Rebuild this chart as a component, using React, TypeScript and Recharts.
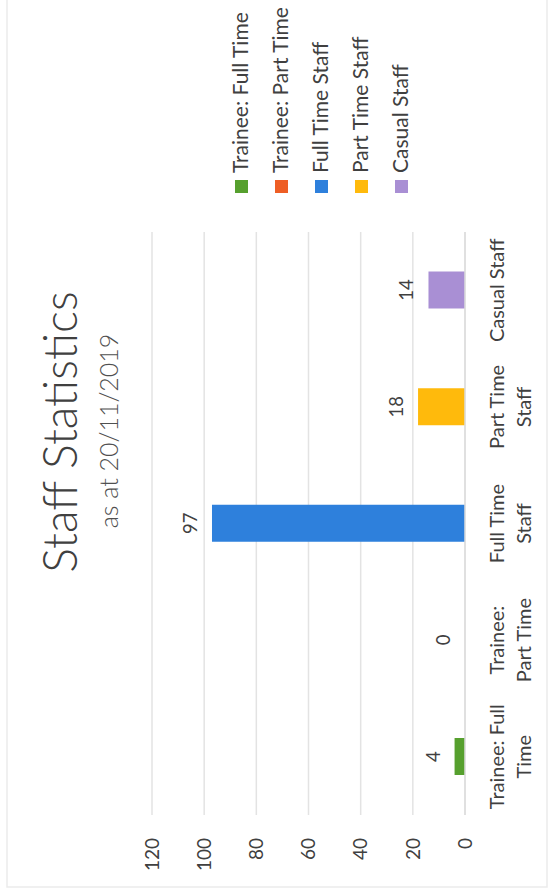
import React from 'react';
import { BarChart, Bar, XAxis, YAxis, CartesianGrid, Cell } from 'recharts';

const categories = ['Trainee: Full Time', 'Trainee: Part Time', 'Full Time Staff', 'Part Time Staff', 'Casual Staff'];
const categoryLines = [['Trainee: Full', 'Time'], ['Trainee:', 'Part Time'], ['Full Time', 'Staff'], ['Part Time', 'Staff'], ['Casual Staff']];
const staffCounts = [4, 0, 97, 18, 14];
const barColors = ['#56A02E', '#EE5E25', '#2E80DC', '#FFBA0C', '#A98FD4'];
const yTicks = [0, 20, 40, 60, 80, 100, 120];
const titleText = 'Staff Statistics';
const subtitleText = 'as at 20/11/2019';

const data = categories.map((c, i) => ({ name: c, value: staffCounts[i] }));

const FONT = 'Lato, "Liberation Sans", sans-serif';
const TEXT = '#404040';

const CategoryTick = (props: any) => {
  const { x, y, payload } = props;
  const idx = categories.indexOf(payload.value);
  const lines = categoryLines[idx] || [payload.value];
  return (
    <text x={x} y={y} textAnchor="middle" fill={TEXT} fontSize={20} fontFamily={FONT}>
      {lines.map((l, i) => (
        <tspan key={i} x={x} y={y + 39 + i * 27}>{l}</tspan>
      ))}
    </text>
  );
};

const ValueLabel = (props: any) => {
  const { x, y, width, value } = props;
  return (
    <text x={Number(x) + Number(width) / 2} y={Number(y) - 15} textAnchor="middle" fill={TEXT} fontSize={18.5} fontFamily={FONT}>
      {String(value)}
    </text>
  );
};

export default function App() {
  return (
    <div style={{ position: 'absolute', left: 0, top: 0, width: 552, height: 892, overflow: 'hidden', background: '#fff' }}>
      <div
        style={{
          position: 'absolute', left: 0, top: 0, width: 892, height: 552,
          transformOrigin: '0 0', transform: 'translate(0px, 892px) rotate(-90deg)', background: '#fff',
        }}
      >
        <BarChart width={892} height={552} data={data} margin={{ top: 152, right: 232, bottom: 27, left: 17 }}>
          <CartesianGrid vertical={false} stroke="#e3e3e3" strokeWidth={1.5} />
          <XAxis
            dataKey="name"
            height={60}
            tickSize={0}
            tickMargin={0}
            tickLine={false}
            axisLine={{ stroke: '#dcdcdc', strokeWidth: 1.5 }}
            tick={<CategoryTick />}
            interval={0}
          />
          <YAxis
            width={60}
            domain={[0, 120]}
            ticks={yTicks}
            tickSize={0}
            tickMargin={23}
            axisLine={false}
            tickLine={false}
            tick={{ fill: TEXT, fontSize: 19, fontFamily: FONT }}
          />
          <Bar dataKey="value" barSize={37} minPointSize={0.01} isAnimationActive={false} label={<ValueLabel />}>
            {data.map((d, i) => (
              <Cell key={d.name} fill={barColors[i]} />
            ))}
          </Bar>
        </BarChart>
        <svg width={892} height={552} style={{ position: 'absolute', left: 0, top: 0, pointerEvents: 'none' }}>
          <rect x={5} y={7} width={920} height={540} fill="none" stroke="#ebebeb" strokeWidth={1.5} />
          <text x={460} y={77} textAnchor="middle" fill={TEXT} fontSize={46.5} fontWeight={300} fontFamily={FONT}>{titleText}</text>
          <text x={461} y={118} textAnchor="middle" fill="#505050" fontSize={25} fontWeight={300} fontFamily={FONT}>{subtitleText}</text>
          {categories.map((c, i) => (
            <g key={c}>
              <rect x={699} y={235 + i * 40} width={13} height={13} fill={barColors[i]} />
              <text x={719} y={248 + i * 40} fill={TEXT} fontSize={21} fontFamily={FONT}>{c}</text>
            </g>
          ))}
        </svg>
      </div>
    </div>
  );
}
